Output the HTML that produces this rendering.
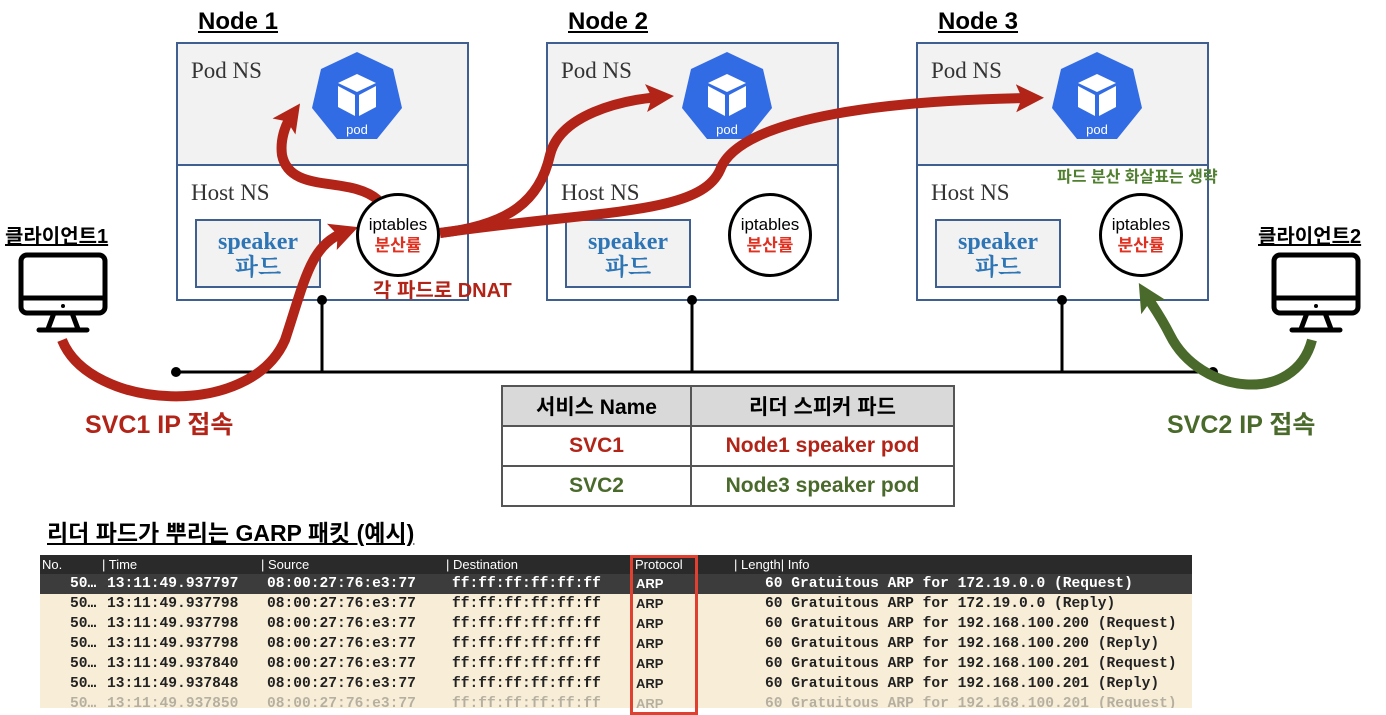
<!DOCTYPE html>
<html><head><meta charset="utf-8"><style>
*{margin:0;padding:0;box-sizing:border-box}
body{width:1386px;height:708px;background:#fff;position:relative;overflow:hidden;font-family:"Liberation Sans","Noto Sans CJK KR",sans-serif}
.a{position:absolute}
.title{font-weight:bold;font-size:24px;text-decoration:underline;color:#000}
.node{border:2px solid #3f5f91;background:#fff}
.podns{background:#f2f2f2;border-bottom:2px solid #3f5f91}
.ns{font-family:"Liberation Serif","Noto Serif CJK SC",serif;font-size:23px;color:#333}
.spk{border:2px solid #3f5f91;background:#f2f2f2;text-align:center;color:#2e75b6;font-family:"Liberation Serif","Noto Serif CJK SC",serif;font-size:24px;font-weight:bold;line-height:26px;padding-top:8px}
.ipt{border:3px solid #000;border-radius:50%;background:#fff;text-align:center;font-size:17px;line-height:21px;padding-top:18px}
.ipt b{color:#e03020;display:block}
table.t{border-collapse:collapse;font-size:21px;font-weight:bold}
table.t td{border:2px solid #555;text-align:center;height:40px}
.r{position:relative;height:20px;line-height:20px;font-family:"Liberation Mono","DejaVu Sans Mono",monospace;font-size:14.6px;font-weight:bold;color:#222;white-space:pre}
.r span{position:absolute;top:0}
.r .p{font-family:"Liberation Sans",sans-serif;font-size:13px}
</style></head><body>

<div class="a title" style="left:198px;top:8px">Node 1</div>
<div class="a title" style="left:568px;top:8px">Node 2</div>
<div class="a title" style="left:938px;top:8px">Node 3</div>

<div class="a node" style="left:176px;top:42px;width:293px;height:259px"><div class="podns" style="height:122px"></div></div>
<div class="a node" style="left:546px;top:42px;width:293px;height:259px"><div class="podns" style="height:122px"></div></div>
<div class="a node" style="left:916px;top:42px;width:293px;height:259px"><div class="podns" style="height:122px"></div></div>

<div class="a ns" style="left:191px;top:58px">Pod NS</div>
<div class="a ns" style="left:561px;top:58px">Pod NS</div>
<div class="a ns" style="left:931px;top:58px">Pod NS</div>
<div class="a ns" style="left:191px;top:180px">Host NS</div>
<div class="a ns" style="left:561px;top:180px">Host NS</div>
<div class="a ns" style="left:931px;top:180px">Host NS</div>

<div class="a spk" style="left:195px;top:219px;width:126px;height:69px">speaker<br>파드</div>
<div class="a spk" style="left:565px;top:219px;width:126px;height:69px">speaker<br>파드</div>
<div class="a spk" style="left:935px;top:219px;width:126px;height:69px">speaker<br>파드</div>

<div class="a" style="left:1057px;top:163px;font-size:16px;font-weight:bold;color:#4f7f2f">파드 분산 화살표는 생략</div>

<svg class="a" style="left:0;top:0" width="1386" height="708">
<defs>
<g id="pod">
<polygon points="0,-46 36,-29 45,10 20,41 -20,41 -45,10 -36,-29" fill="#326ce5"/>
<polygon points="0,-24 19,-15 0,-6 -19,-15" fill="#fff"/>
<polygon points="-19,-12 -2,-3 -2,18 -19,9" fill="#fff"/>
<polygon points="19,-12 2,-3 2,18 19,9" fill="#fff"/>
<text x="0" y="36" text-anchor="middle" fill="#fff" font-size="13" font-family="Liberation Sans,sans-serif">pod</text>
</g>
<g id="mon">
<rect x="3" y="3" width="84" height="58" rx="6" fill="none" stroke="#000" stroke-width="5"/>
<line x1="3" y1="46" x2="87" y2="46" stroke="#000" stroke-width="5"/>
<circle cx="45" cy="54" r="2" fill="#000"/>
<path d="M36,61 L30,77 M54,61 L60,77" stroke="#000" stroke-width="5"/>
<line x1="21" y1="78" x2="69" y2="78" stroke="#000" stroke-width="5" stroke-linecap="round"/>
</g>
<marker id="ar" markerUnits="userSpaceOnUse" markerWidth="40" markerHeight="40" refX="14" refY="14" orient="auto"><polygon points="0,0 28,14 0,28 6,14" fill="#b22418"/></marker>
<marker id="ag" markerUnits="userSpaceOnUse" markerWidth="40" markerHeight="40" refX="14" refY="14" orient="auto"><polygon points="0,0 28,14 0,28 6,14" fill="#4a6a2b"/></marker>
</defs>
<use href="#pod" x="357" y="98"/>
<use href="#pod" x="727" y="98"/>
<use href="#pod" x="1097" y="98"/>

<line x1="176" y1="372" x2="1213" y2="372" stroke="#000" stroke-width="3"/>
<circle cx="176" cy="372" r="5"/><circle cx="1213" cy="372" r="5"/>
<g stroke="#000" stroke-width="3"><line x1="322" y1="300" x2="322" y2="372"/><line x1="692" y1="300" x2="692" y2="372"/><line x1="1062" y1="300" x2="1062" y2="372"/></g>
<circle cx="322" cy="300" r="5"/><circle cx="692" cy="300" r="5"/><circle cx="1062" cy="300" r="5"/>

<use href="#mon" x="18" y="252"/>
<use href="#mon" x="1271" y="252"/>

<g fill="none" stroke="#b22418" stroke-width="10">
<path d="M62,340 C90,410 250,420 285,340 C305,280 310,245 345,232" marker-end="url(#ar)"/>
<path d="M378,200 C350,175 290,195 282,155 C280,140 285,125 292,115" marker-end="url(#ar)"/>
<path d="M440,233 C510,225 540,200 550,155 C560,115 620,100 660,97" marker-end="url(#ar)"/>
<path d="M440,233 C600,210 700,215 720,170 C740,115 900,100 1030,98" marker-end="url(#ar)"/>
</g>
<path d="M1312,340 C1295,405 1200,395 1170,335 C1160,315 1152,305 1146,295" fill="none" stroke="#4a6a2b" stroke-width="10" marker-end="url(#ag)"/>
</svg>

<div class="a ipt" style="left:356px;top:193px;width:84px;height:84px">iptables<b>분산률</b></div>
<div class="a ipt" style="left:728px;top:193px;width:84px;height:84px">iptables<b>분산률</b></div>
<div class="a ipt" style="left:1099px;top:193px;width:84px;height:84px">iptables<b>분산률</b></div>

<div class="a" style="left:373px;top:274px;font-size:20px;font-weight:bold;color:#b22418">각 파드로 DNAT</div>
<div class="a" style="left:5px;top:220px;font-size:20px;font-weight:bold;text-decoration:underline">클라이언트1</div>
<div class="a" style="left:1258px;top:220px;font-size:20px;font-weight:bold;text-decoration:underline">클라이언트2</div>
<div class="a" style="left:85px;top:405px;font-size:25px;font-weight:bold;color:#b22418">SVC1 IP 접속</div>
<div class="a" style="left:1167px;top:405px;font-size:25px;font-weight:bold;color:#4a6a2b">SVC2 IP 접속</div>

<table class="a t" style="left:501px;top:385px;width:454px">
<tr style="background:#d9d9d9"><td style="width:189px">서비스 Name</td><td>리더 스피커 파드</td></tr>
<tr style="color:#b22418"><td>SVC1</td><td>Node1 speaker pod</td></tr>
<tr style="color:#4a6a2b"><td>SVC2</td><td>Node3 speaker pod</td></tr>
</table>

<div class="a" style="left:47px;top:514px;font-size:23px;font-weight:bold;text-decoration:underline">리더 파드가 뿌리는 GARP 패킷 (예시)</div>

<div class="a" style="left:40px;top:555px;width:1152px;height:153px;background:#f8eed8;overflow:hidden">
<div style="height:19px;background:#2a2a2a;color:#fff;font-size:13px;line-height:19px;position:relative">
<span class="a" style="left:2px">No.</span><span class="a" style="left:62px">| Time</span><span class="a" style="left:221px">| Source</span><span class="a" style="left:406px">| Destination</span><span class="a" style="left:595px">Protocol</span><span class="a" style="left:694px">| Length| Info</span></div>
<div class="r" style="background:#3c3c3c;color:#fff"><span style="left:30px">50…</span><span style="left:67px">13:11:49.937797</span><span style="left:227px">08:00:27:76:e3:77</span><span style="left:412px">ff:ff:ff:ff:ff:ff</span><span class="p" style="left:596px">ARP</span><span style="left:725px">60 Gratuitous ARP for 172.19.0.0 (Request)</span></div>
<div class="r"><span style="left:30px">50…</span><span style="left:67px">13:11:49.937798</span><span style="left:227px">08:00:27:76:e3:77</span><span style="left:412px">ff:ff:ff:ff:ff:ff</span><span class="p" style="left:596px">ARP</span><span style="left:725px">60 Gratuitous ARP for 172.19.0.0 (Reply)</span></div>
<div class="r"><span style="left:30px">50…</span><span style="left:67px">13:11:49.937798</span><span style="left:227px">08:00:27:76:e3:77</span><span style="left:412px">ff:ff:ff:ff:ff:ff</span><span class="p" style="left:596px">ARP</span><span style="left:725px">60 Gratuitous ARP for 192.168.100.200 (Request)</span></div>
<div class="r"><span style="left:30px">50…</span><span style="left:67px">13:11:49.937798</span><span style="left:227px">08:00:27:76:e3:77</span><span style="left:412px">ff:ff:ff:ff:ff:ff</span><span class="p" style="left:596px">ARP</span><span style="left:725px">60 Gratuitous ARP for 192.168.100.200 (Reply)</span></div>
<div class="r"><span style="left:30px">50…</span><span style="left:67px">13:11:49.937840</span><span style="left:227px">08:00:27:76:e3:77</span><span style="left:412px">ff:ff:ff:ff:ff:ff</span><span class="p" style="left:596px">ARP</span><span style="left:725px">60 Gratuitous ARP for 192.168.100.201 (Request)</span></div>
<div class="r"><span style="left:30px">50…</span><span style="left:67px">13:11:49.937848</span><span style="left:227px">08:00:27:76:e3:77</span><span style="left:412px">ff:ff:ff:ff:ff:ff</span><span class="p" style="left:596px">ARP</span><span style="left:725px">60 Gratuitous ARP for 192.168.100.201 (Reply)</span></div>
<div class="r" style="opacity:.3"><span style="left:30px">50…</span><span style="left:67px">13:11:49.937850</span><span style="left:227px">08:00:27:76:e3:77</span><span style="left:412px">ff:ff:ff:ff:ff:ff</span><span class="p" style="left:596px">ARP</span><span style="left:725px">60 Gratuitous ARP for 192.168.100.201 (Request)</span></div>
</div>
<div class="a" style="left:630px;top:555px;width:68px;height:160px;border:3px solid #e04030"></div>
</body></html>
